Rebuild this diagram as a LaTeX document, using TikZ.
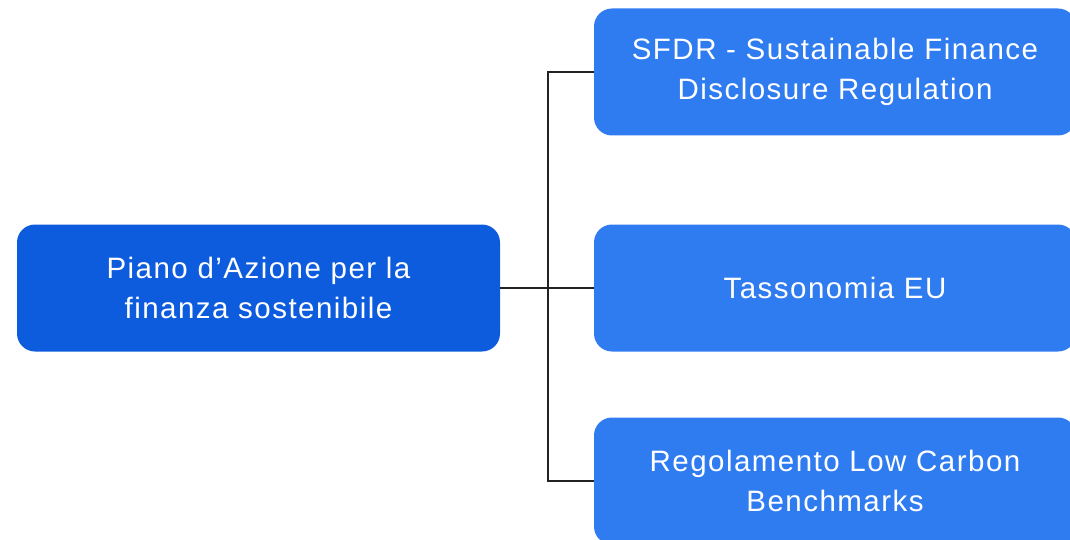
\documentclass[tikz,border=0pt]{standalone}
\usepackage{fontspec}
\setmainfont{Liberation Sans}[LetterSpace=5]
\definecolor{leftblue}{HTML}{0E5CDE}
\definecolor{rightblue}{HTML}{2F7BF0}
\definecolor{linegray}{HTML}{222222}
\begin{document}
\begin{tikzpicture}[x=1pt,y=-1pt,
  box/.style={rounded corners=18pt, text=white, align=center, inner sep=0pt,
    font=\fontsize{29.5}{40}\selectfont},
  mainbox/.style={box, fill=leftblue, minimum width=483pt, minimum height=127pt},
  subbox/.style={box, fill=rightblue, minimum width=482pt, minimum height=127pt},
  conn/.style={draw=linegray, line width=2pt}]
\useasboundingbox (0,0) rectangle (1070,540);
\clip (0,0) rectangle (1070,540);
\node[mainbox] (L) at (258.5,288) {Piano d’Azione per la\\finanza sostenibile};
\node[subbox] (A) at (835,72) {SFDR - Sustainable Finance\\Disclosure Regulation};
\node[subbox] (B) at (835,288) {Tassonomia EU};
\node[subbox] (C) at (835,481) {Regolamento Low Carbon\\Benchmarks};
\coordinate (J) at (548,288);
\draw[conn] (L.east) -- (J);
\draw[conn] (J) -- (B.west);
\draw[conn] (J) |- (A.west);
\draw[conn] (J) |- (C.west);
\end{tikzpicture}
\end{document}
